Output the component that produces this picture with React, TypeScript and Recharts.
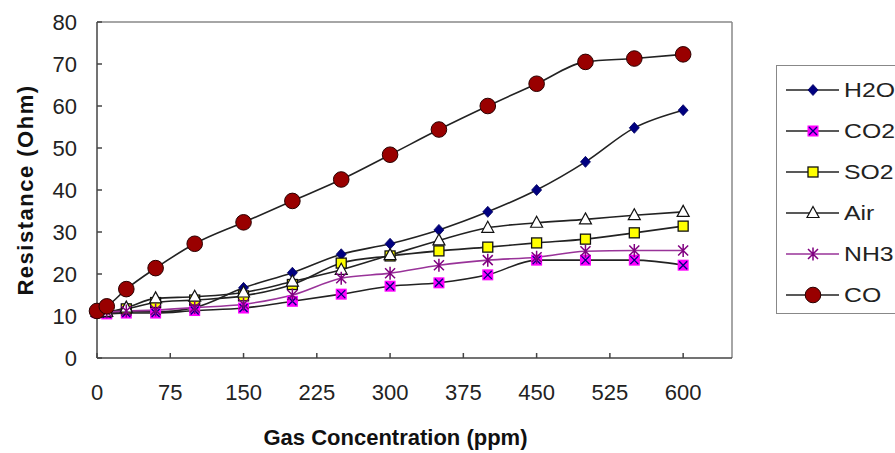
import { LineChart, Line, XAxis, YAxis, ReferenceLine } from "recharts";

const CONC = [0, 10, 30, 60, 100, 150, 200, 250, 300, 350, 400, 450, 500, 550, 600];
const H2O = [11, 10.8, 11, 11, 12, 16.7, 20.3, 24.7, 27.2, 30.5, 34.8, 40, 46.7, 54.8, 59];
const CO2 = [10.8, 10.5, 10.7, 10.7, 11.3, 11.9, 13.5, 15.2, 17.1, 17.9, 19.8, 23.3, 23.3, 23.3, 22.1];
const SO2 = [11, 11, 11.7, 13.2, 13.8, 14.8, 17.5, 22.6, 24.3, 25.5, 26.4, 27.4, 28.3, 29.8, 31.4];
const AIR = [11, 11, 12, 14.2, 14.6, 15.6, 18.2, 21, 24.5, 28, 31, 32.2, 33, 34, 34.8];
const NH3 = [11, 11, 11.2, 11.4, 12, 12.8, 15, 19, 20.2, 22.1, 23.3, 24, 25.4, 25.6, 25.6];
const CO = [11.2, 12.3, 16.4, 21.4, 27.2, 32.3, 37.4, 42.5, 48.4, 54.4, 60, 65.3, 70.5, 71.3, 72.3];

const X_TICKS = [0, 75, 150, 225, 300, 375, 450, 525, 600];
const Y_TICKS = [0, 10, 20, 30, 40, 50, 60, 70, 80];

const rows = CONC.map((c, i) => ({
  conc: c,
  H2O: H2O[i],
  CO2: CO2[i],
  SO2: SO2[i],
  Air: AIR[i],
  NH3: NH3[i],
  CO: CO[i],
}));

const FONT = "Liberation Sans, Arial, sans-serif";

type Shape = (cx: number, cy: number, key?: string) => JSX.Element;

const diamond: Shape = (cx, cy, key) => (
  <path key={key} d={`M${cx},${cy - 5.5}L${cx + 5},${cy}L${cx},${cy + 5.5}L${cx - 5},${cy}Z`} fill="#000080" stroke="#000060" strokeWidth={0.8} />
);
const crossSquare: Shape = (cx, cy, key) => (
  <g key={key}>
    <rect x={cx - 5.5} y={cy - 5.5} width={11} height={11} fill="#ff00ff" />
    <path d={`M${cx - 4},${cy - 4}L${cx + 4},${cy + 4}M${cx - 4},${cy + 4}L${cx + 4},${cy - 4}`} stroke="#000080" strokeWidth={1.3} />
  </g>
);
const yellowSquare: Shape = (cx, cy, key) => (
  <rect key={key} x={cx - 5} y={cy - 5} width={10} height={10} fill="#ffff00" stroke="#111" strokeWidth={1.3} />
);
const triangle: Shape = (cx, cy, key) => (
  <path key={key} d={`M${cx},${cy - 6.5}L${cx + 6},${cy + 4.5}L${cx - 6},${cy + 4.5}Z`} fill="#ffffff" stroke="#111" strokeWidth={1.2} />
);
const asterisk: Shape = (cx, cy, key) => (
  <path
    key={key}
    d={`M${cx - 5},${cy - 5}L${cx + 5},${cy + 5}M${cx - 5},${cy + 5}L${cx + 5},${cy - 5}M${cx},${cy - 6.5}L${cx},${cy + 6.5}`}
    stroke="#800080"
    strokeWidth={1.5}
    fill="none"
  />
);
const circle: Shape = (cx, cy, key) => (
  <circle key={key} cx={cx} cy={cy} r={7.8} fill="#990000" stroke="#2a0000" strokeWidth={1} />
);

const SERIES = [
  { key: "H2O", stroke: "#222", shape: diamond },
  { key: "CO2", stroke: "#222", shape: crossSquare },
  { key: "SO2", stroke: "#222", shape: yellowSquare },
  { key: "Air", stroke: "#222", shape: triangle },
  { key: "NH3", stroke: "#993399", shape: asterisk },
  { key: "CO", stroke: "#222", shape: circle },
];

// legend drawn outside the chart so it doesn't eat plot height
const LegendBox = () => (
  <div
    style={{
      position: "absolute",
      left: 776,
      top: 65,
      width: 140,
      height: 249,
      border: "1px solid #888",
      background: "#fff",
      paddingTop: 3,
      boxSizing: "border-box",
    }}
  >
    {SERIES.map((s) => (
      <div key={s.key} style={{ height: 41, display: "flex", alignItems: "center" }}>
        <svg width={66} height={20} style={{ display: "block" }}>
          <line x1={9} x2={62} y1={10} y2={10} stroke={s.stroke} strokeWidth={1.5} />
          {s.shape(36, 10)}
        </svg>
        <span
          style={{
            fontFamily: FONT,
            fontSize: 21,
            color: "#222",
            marginLeft: 1,
            display: "inline-block",
            transform: "scaleX(1.18)",
            transformOrigin: "left center",
          }}
        >
          {s.key}
        </span>
      </div>
    ))}
  </div>
);

export default function App() {
  return (
    <div style={{ position: "absolute", left: 0, top: 0, width: 895, height: 453, background: "#fff", overflow: "hidden" }}>
      <LineChart width={895} height={453} data={rows} margin={{ top: 22, right: 163, bottom: 0, left: 17 }}>
        <XAxis
          dataKey="conc"
          type="number"
          domain={[0, 650]}
          ticks={X_TICKS}
          interval={0}
          height={95}
          tickSize={-5}
          tickMargin={31}
          stroke="#444"
          strokeWidth={1.5}
          tick={{ fill: "#222", fontSize: 22, fontFamily: FONT }}
          label={{
            value: "Gas Concentration (ppm)",
            position: "insideBottom",
            offset: 8,
            dx: -19,
            style: { fontFamily: FONT, fontSize: 22, fontWeight: "bold", fill: "#111" },
          }}
        />
        <YAxis
          type="number"
          domain={[0, 80]}
          ticks={Y_TICKS}
          interval={0}
          width={80}
          tickSize={-5}
          tickMargin={25}
          stroke="#444"
          strokeWidth={1.5}
          tick={{ fill: "#222", fontSize: 22, fontFamily: FONT }}
          label={{
            value: "Resistance (Ohm)",
            angle: -90,
            position: "insideLeft",
            offset: 8,
            style: {
              textAnchor: "middle",
              fontFamily: FONT,
              fontSize: 22,
              fontWeight: "bold",
              fill: "#111",
              letterSpacing: 1.5,
            },
          }}
        />
        <ReferenceLine y={80} stroke="#888" strokeWidth={1.5} />
        <ReferenceLine x={650} stroke="#888" strokeWidth={1.5} />
        {SERIES.map((s) => (
          <Line
            key={s.key}
            dataKey={s.key}
            type="monotone"
            stroke={s.stroke}
            strokeWidth={1.6}
            isAnimationActive={false}
            dot={(p: any) => s.shape(p.cx, p.cy, `${s.key}-${p.index}`)}
            activeDot={false}
          />
        ))}
      </LineChart>
      <LegendBox />
    </div>
  );
}
